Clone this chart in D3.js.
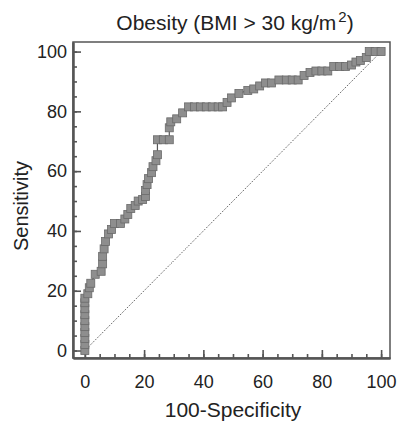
<!DOCTYPE html>
<html>
<head>
<meta charset="utf-8">
<script src="https://cdn.jsdelivr.net/npm/d3@7"></script>
<style>
  body { margin: 0; background: #fff; }
  text { font-family: "Liberation Sans", Arial, sans-serif; fill: #222; }
</style>
</head>
<body>
<div id="myRoc"></div>
<script>
// roc points: 100-specificity and sensitivity
var falsePos = [0, 0, 0, 0, 0, 0, 0, 0, 0, 0,
  1, 1.5, 2, 3.5, 5.5, 6, 6, 6.5, 7, 8, 9, 10, 12, 13.5, 14.5, 15.5, 17, 18, 19.5, 20.5,
  20.5, 21, 21.5, 22.5, 23, 24, 24.5, 24.5, 26.5, 28.5, 28.5, 29, 31, 33, 35, 37, 39, 41, 43, 45,
  46.5, 48, 49.5, 52, 55, 57, 59, 61, 63, 65.5, 68, 70, 72, 74, 76, 78, 80, 82, 84, 86,
  88, 90, 91.5, 93, 95, 96, 98, 100];
var sensitivity = [0, 2, 4, 6, 8, 10, 12, 14, 16, 17.5,
  19, 21, 22.5, 25.5, 26.5, 29, 31.5, 34, 36.5, 39, 40.5, 42.5, 42.5, 44, 45.5, 47.5, 48.5, 50, 50.5, 51.5,
  53.5, 55.5, 57.5, 59.5, 61.5, 63.5, 65.5, 70.5, 70.5, 70.5, 74.5, 76.5, 77.5, 79.5, 81.5, 81.5, 81.5, 81.5, 81.5, 81.5,
  81.5, 83, 84.5, 86, 87, 87.5, 88.5, 89.5, 89.5, 90.5, 90.5, 90.5, 90.5, 92, 93, 93.5, 93.5, 93.5, 95, 95,
  95, 95.5, 96.5, 97, 98, 100, 100, 100];
var xTicks = [0, 20, 40, 60, 80, 100];
var yTicks = [0, 20, 40, 60, 80, 100];
var minorTicks = d3.range(0, 101, 5);

var width = 398, height = 421;
var box = {left: 73, right: 390, top: 42, bottom: 358};

var svg = d3.select("#myRoc")
  .append("svg")
    .attr("width", width)
    .attr("height", height);

var x = d3.scaleLinear()
  .domain([-4, 103])
  .range([box.left, box.right]);
var y = d3.scaleLinear()
  .domain([-2.5, 103.2])
  .range([box.bottom, box.top]);

// frame
svg.append("rect")
  .attr("x", box.left)
  .attr("y", box.top)
  .attr("width", box.right - box.left)
  .attr("height", box.bottom - box.top)
  .style("fill", "none")
  .style("stroke", "#555")
  .style("stroke-width", 1.5);

// x axis, ticks point inward
var xAxis = svg.append("g")
  .attr("transform", "translate(0," + box.bottom + ")")
  .call(d3.axisBottom(x).tickValues(minorTicks).tickSizeInner(-4).tickSizeOuter(0).tickFormat(""));
xAxis.append("g").call(d3.axisBottom(x).tickValues(xTicks).tickSizeInner(-8).tickSizeOuter(0).tickPadding(17));
xAxis.selectAll("path").style("stroke", "#555").style("stroke-width", 2);
xAxis.selectAll("line").style("stroke", "#555").style("stroke-width", 1.6);
xAxis.selectAll("text")
  .style("font-size", "18px")
  .style("font-family", "Liberation Sans, Arial, sans-serif")
  .style("fill", "#222");

var yAxis = svg.append("g")
  .attr("transform", "translate(" + box.left + ",0)")
  .call(d3.axisLeft(y).tickValues(minorTicks).tickSizeInner(-4).tickSizeOuter(0).tickFormat(""));
yAxis.append("g").call(d3.axisLeft(y).tickValues(yTicks).tickSizeInner(-8).tickSizeOuter(0).tickPadding(6));
yAxis.selectAll("path").style("stroke", "#555").style("stroke-width", 2);
yAxis.selectAll("line").style("stroke", "#555").style("stroke-width", 1.6);
yAxis.selectAll("text")
  .style("font-size", "18px")
  .style("font-family", "Liberation Sans, Arial, sans-serif")
  .style("fill", "#222");

// chance diagonal
svg.append("line")
  .attr("x1", x(0))
  .attr("y1", y(0))
  .attr("x2", x(100))
  .attr("y2", y(100))
  .style("stroke", "#333")
  .style("stroke-width", 1)
  .style("stroke-dasharray", "1,1.5");

var points = falsePos.map(function(d, i) { return [d, sensitivity[i]]; });

// roc line then square markers
svg.append("path")
  .datum(points)
  .attr("d", d3.line().x(function(d) { return x(d[0]); }).y(function(d) { return y(d[1]); }))
  .style("fill", "none")
  .style("stroke", "#555")
  .style("stroke-width", 1.2);

var size = 8;
svg.selectAll("rect.mark")
  .data(points)
  .enter()
  .append("rect")
  .attr("class", "mark")
  .attr("x", function(d) { return x(d[0]) - size / 2; })
  .attr("y", function(d) { return y(d[1]) - size / 2; })
  .attr("width", size)
  .attr("height", size)
  .style("fill", "#8e8e8e")
  .style("stroke", "#6a6a6a")
  .style("stroke-width", 0.8);

// title and axis labels
var title = svg.append("text")
  .attr("x", 235)
  .attr("y", 30)
  .attr("text-anchor", "middle")
  .style("font-size", "21px");
title.append("tspan").text("Obesity (BMI > 30 kg/m");
title.append("tspan").attr("dx", 2).attr("dy", -8).style("font-size", "15px").text("2");
title.append("tspan").attr("dy", 8).text(")");

svg.append("text")
  .attr("x", 233)
  .attr("y", 417)
  .attr("text-anchor", "middle")
  .style("font-size", "21px")
  .text("100-Specificity");

svg.append("text")
  .attr("transform", "translate(28," + 206 + ") rotate(-90)")
  .attr("text-anchor", "middle")
  .style("font-size", "20px")
  .text("Sensitivity");
</script>
</body>
</html>
